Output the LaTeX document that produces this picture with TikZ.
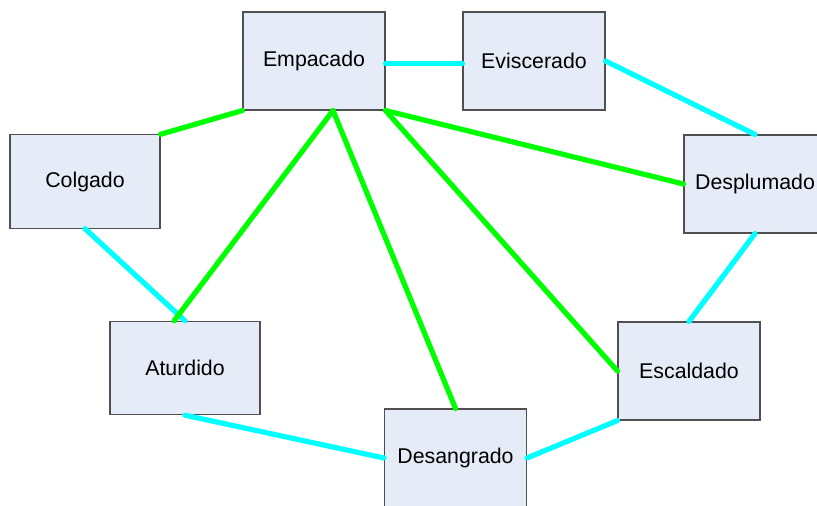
\documentclass[tikz,border=0pt]{standalone}
\usepackage{fontspec}
\setmainfont{Liberation Sans}
\usepackage{xcolor}

\definecolor{cajafondo}{HTML}{E6ECF7}
\definecolor{cajaborde}{HTML}{505050}
\definecolor{cian}{HTML}{00FFFF}
\definecolor{verde}{HTML}{00FF00}

\tikzset{
	etapa/.style={draw=cajaborde,fill=cajafondo,line width=0.8pt,inner sep=0pt,
		minimum width=106.5pt,minimum height=73.5pt,font=\fontsize{16}{19}\selectfont},
	flujo/.style={cian,line width=3.9pt,line cap=round},
	enlace/.style={verde,line width=3.9pt,line cap=round}
}

\begin{document}
\begin{tikzpicture}[x=0.75pt,y=-0.75pt]
\useasboundingbox (0,0) rectangle (817,506);
\node[etapa] (emp) at (314,61) {Empacado};
\node[etapa] (evi) at (534,61) {Eviscerado};
\node[etapa,minimum width=112.5pt,minimum height=70pt] (col) at (85,181.5) {Colgado};
\node[etapa] (des) at (755,184) {Desplumado};
\node[etapa,minimum width=112.5pt,minimum height=70pt] (atu) at (185,368) {Aturdido};
\node[etapa] (dsg) at (455.5,458) {Desangrado};
\node[etapa] (esc) at (689,371) {Escaldado};
% cadena del proceso
\draw[flujo] (emp.-2.4) -- (evi.182.4);
\draw[flujo] (evi.east) -- (des.north);
\draw[flujo] (des.south) -- (esc.north);
\draw[flujo] (esc.south west) -- (dsg.east);
\draw[flujo] (dsg.west) -- (atu.south);
\draw[flujo] (atu.north) -- (col.south);
% enlaces con empacado
\draw[enlace] (emp.south west) -- (col.north east);
\draw[enlace] (emp.-69) -- (atu.103);
\draw[enlace] (emp.-69) -- (dsg.north);
\draw[enlace] (emp.south east) -- (esc.west);
\draw[enlace] (emp.south east) -- (des.west);
\end{tikzpicture}
\end{document}
